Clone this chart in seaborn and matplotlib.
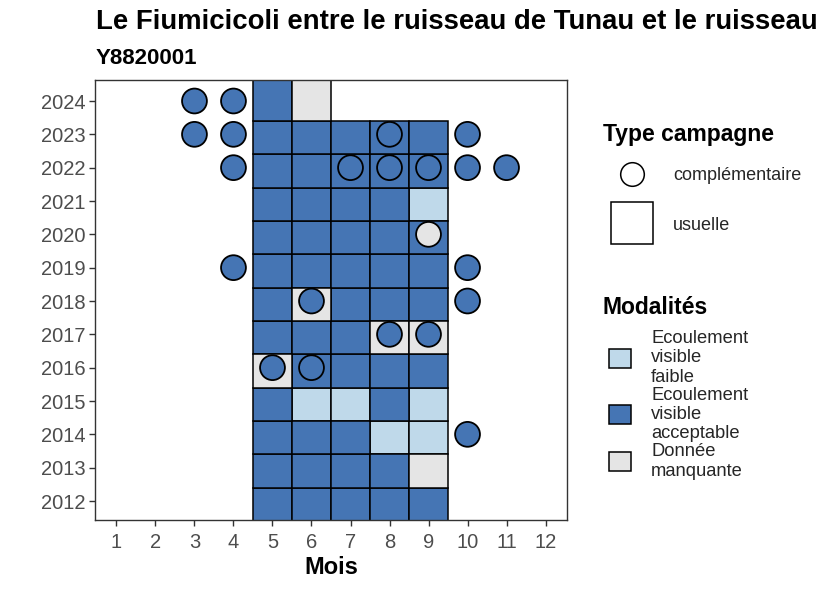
import numpy as np
import pandas as pd
import matplotlib
matplotlib.use("Agg")
import matplotlib.pyplot as plt
from matplotlib.lines import Line2D
from matplotlib.patches import Patch
import seaborn as sns

# ---------------- data ----------------
title = "Le Fiumicicoli entre le ruisseau de Tunau et le ruisseau"
subtitle = "Y8820001"
months = list(range(1, 13))
years = list(range(2012, 2025))

# usual campaign tiles: one code per month, starting in month 5
# A = acceptable, F = faible, M = manquante
tile_first_month = 5
tile_codes = {
    2012: "AAAAA",
    2013: "AAAAM",
    2014: "AAAFF",
    2015: "AFFAF",
    2016: "MAAAA",
    2017: "AAAMM",
    2018: "AMAAA",
    2019: "AAAAA",
    2020: "AAAAA",
    2021: "AAAAF",
    2022: "AAAAA",
    2023: "AAAAA",
    2024: "AM",
}

# complementary campaigns (circles)
circ_year = [2024, 2024, 2023, 2023, 2023, 2023, 2022, 2022, 2022, 2022, 2022, 2022,
             2020, 2019, 2019, 2018, 2018, 2017, 2017, 2016, 2016, 2014]
circ_month = [3, 4, 3, 4, 8, 10, 4, 7, 8, 9, 10, 11,
              9, 4, 10, 6, 10, 8, 9, 5, 6, 10]
circ_code = ["A", "A", "A", "A", "A", "A", "A", "A", "A", "A", "A", "A",
             "M", "A", "A", "A", "A", "A", "A", "A", "A", "A"]

type_title = "Type campagne"
type_labels = ["complémentaire", "usuelle"]
mod_title = "Modalités"
mod_labels = ["Ecoulement\nvisible\nfaible", "Ecoulement\nvisible\nacceptable", "Donnée\nmanquante"]
mod_order = ["F", "A", "M"]
mod_colors = {"F": "#BFD9EA", "A": "#4575B4", "M": "#E5E5E5"}

# ---------------- build tables ----------------
rows = []
for y, codes in tile_codes.items():
    for i, c in enumerate(codes):
        rows.append({"annee": y, "mois": tile_first_month + i, "code": c})
tiles = pd.DataFrame(rows)
circles = pd.DataFrame({"annee": circ_year, "mois": circ_month, "code": circ_code})

# ---------------- figure ----------------
sns.set_theme(style="white")
plt.rcParams["font.family"] = ["Liberation Sans", "DejaVu Sans"]

W, H = 826, 590
fig = plt.figure(figsize=(W / 100, H / 100), dpi=100)
ax = fig.add_axes([95 / W, 1 - 520 / H, (567 - 95) / W, (520 - 80) / H])

ylo, yhi = 2011.43, 2024.63
ax.set_xlim(0.45, 12.55)
ax.set_ylim(ylo, yhi)

# tiles (span year-0.6 .. year+0.4, top row extends to panel top)
for code in mod_order:
    sub = tiles[tiles["code"] == code]
    bottoms = sub["annee"].to_numpy() - 0.6
    heights = np.where(sub["annee"].to_numpy() == max(years), yhi - bottoms + 0.5, 1.0)
    ax.bar(sub["mois"], heights, bottom=bottoms, width=1.0,
           color=mod_colors[code], edgecolor="black", linewidth=1.1, zorder=2)

# circles via seaborn
sns.scatterplot(data=circles, x="mois", y="annee", hue="code",
                palette=mod_colors, s=320, edgecolor="black", linewidth=1.3,
                legend=False, ax=ax, zorder=3)

ax.set_xticks(months)
ax.set_yticks(years)
ax.set_xticklabels([str(m) for m in months])
ax.set_yticklabels([str(y) for y in years])
ax.tick_params(axis="both", which="both", labelsize=14.5, labelcolor="#4D4D4D",
               color="#333333", length=4, width=1, direction="out",
               bottom=True, left=True)
ax.tick_params(axis="x", pad=5)
ax.tick_params(axis="y", pad=3)
for sp in ax.spines.values():
    sp.set_color("#333333")
    sp.set_linewidth(1.0)
ax.set_xlabel("Mois", fontsize=17, fontweight="bold", color="black", labelpad=3)
ax.set_ylabel("")
ax.grid(False)

# titles
fig.text(96 / W, 1 - 22 / H, title, fontsize=19.8, fontweight="bold",
         ha="left", va="center", color="black")
fig.text(96 / W, 1 - 58 / H, subtitle, fontsize=16, fontweight="bold",
         ha="left", va="center", color="black")

# legend 1 : Type campagne
fig.text(603 / W, 1 - 134 / H, type_title, fontsize=16.5, fontweight="bold",
         ha="left", va="center", color="black")
h1 = [Line2D([], [], marker="o", linestyle="none", markersize=17,
             markerfacecolor="white", markeredgecolor="black", markeredgewidth=1.1),
      Line2D([], [], marker="s", linestyle="none", markersize=30,
             markerfacecolor="white", markeredgecolor="black", markeredgewidth=1.1)]
leg1 = fig.legend(handles=h1, labels=type_labels, loc="upper left",
                  bbox_to_anchor=(603 / W, 1 - 167 / H), frameon=False,
                  fontsize=13, handlelength=3.21, handletextpad=0.66,
                  labelspacing=1.8, borderpad=0, borderaxespad=0)

# legend 2 : Modalités
fig.text(603 / W, 1 - 307 / H, mod_title, fontsize=16.5, fontweight="bold",
         ha="left", va="center", color="black")
h2 = [Patch(facecolor=mod_colors[c], edgecolor="black", linewidth=1.1) for c in mod_order]
leg2 = fig.legend(handles=h2, labels=mod_labels, loc="upper left",
                  bbox_to_anchor=(609 / W, 1 - 330 / H), frameon=False,
                  fontsize=13.2, handlelength=1.2, handleheight=1.2,
                  handletextpad=1.1, labelspacing=0.05, borderpad=0, borderaxespad=0)
for t in leg2.get_texts():
    t.set_linespacing(1.18)

fig.savefig("out.png", dpi=100)
